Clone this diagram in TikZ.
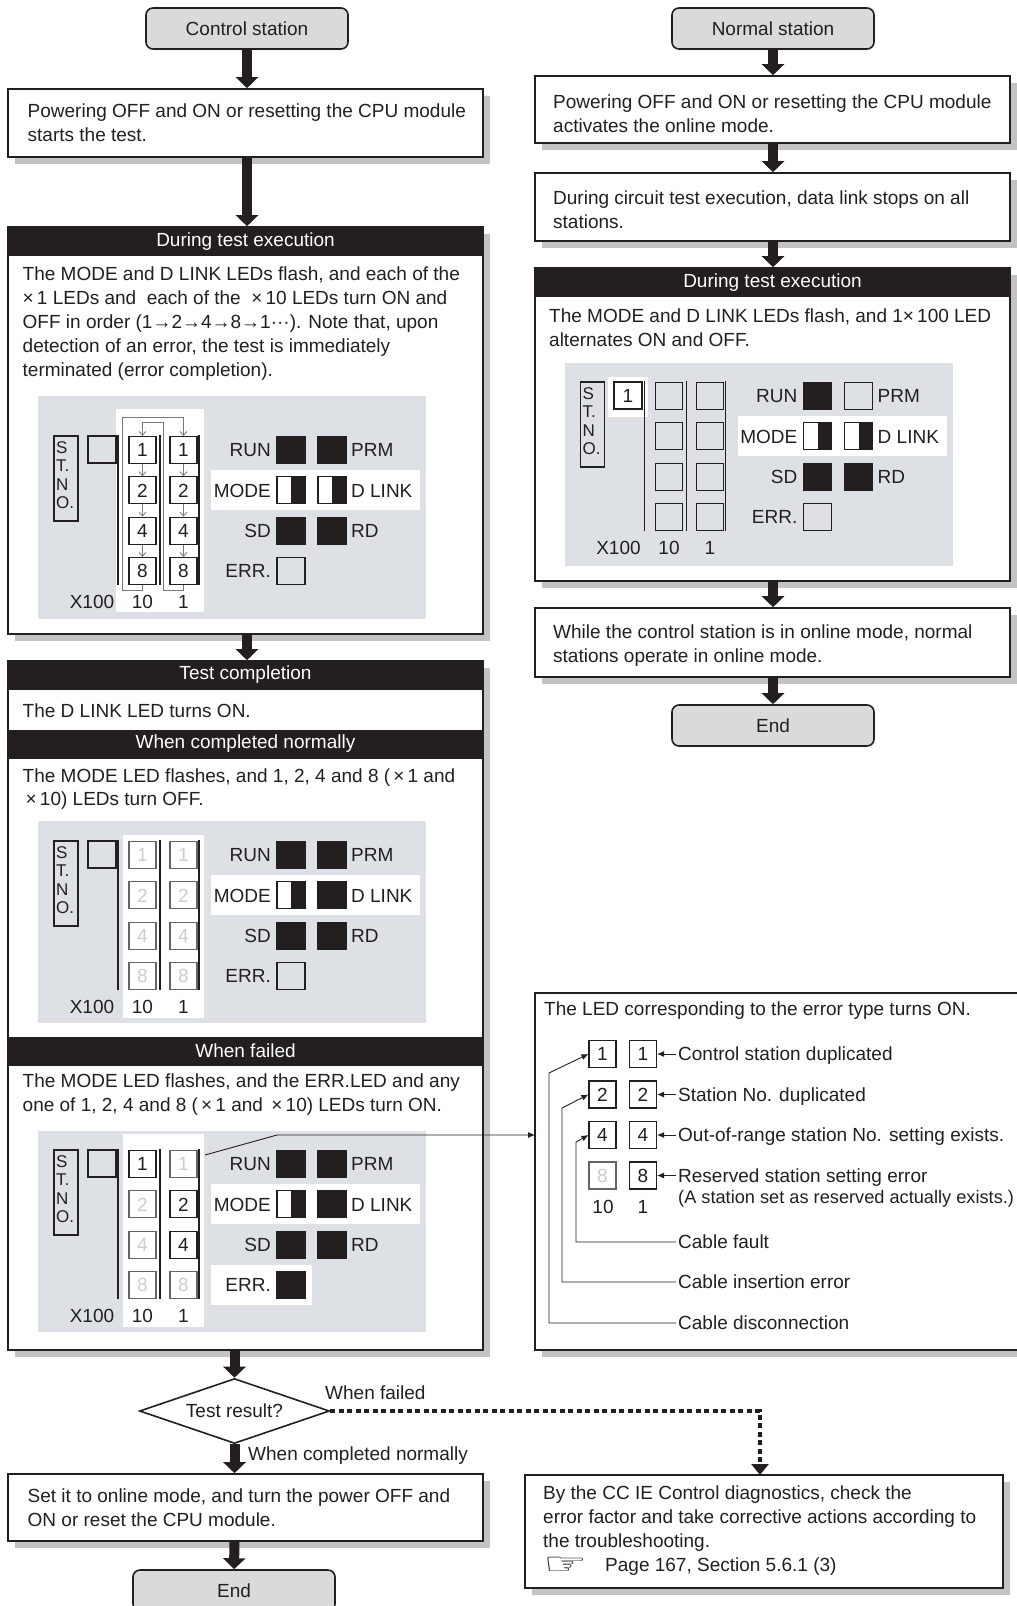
\documentclass[tikz,border=0pt]{standalone}
\usepackage{fontspec}
\usepackage{graphicx}
\setmainfont{Liberation Sans}
\newfontfamily\dejavu{DejaVu Sans}
\usetikzlibrary{arrows.meta,shapes.geometric,shadows}
\definecolor{panelgray}{RGB}{221,224,228}
\definecolor{rbgray}{RGB}{218,218,218}
\definecolor{shgray}{RGB}{195,195,195}
\definecolor{ink}{RGB}{35,31,32}
\definecolor{dimtext}{RGB}{205,205,205}
\definecolor{dimline}{RGB}{100,100,100}
\definecolor{arrgray}{RGB}{120,120,120}
\newcommand{\LPbase}[1]{%
  \node[stno] (#1-stno) at (66,28.5) {};
  \node[stl] (#1-s1) at (56,-3) {S};
  \node[stl] (#1-s2) at (56,15.5) {T.};
  \node[stl] (#1-s3) at (56,34) {N};
  \node[stl] (#1-s4) at (56,52.5) {O.};
  \draw[sepl] (118,-15) -- (118,135) (160,-15) -- (160,135) (199,-15) -- (199,135);
  \node[lbl] (#1-x100) at (92,152) {X100};
  \node[lbl] (#1-c10) at (142.5,152) {10};
  \node[lbl] (#1-c1) at (183.5,152) {1};
  \node[lbl,anchor=east] (#1-lrun) at (271,0) {RUN};
  \node[lbl,anchor=east] (#1-lmode) at (271,40.3) {MODE};
  \node[lbl,anchor=east] (#1-lsd) at (271,80.7) {SD};
  \node[lbl,anchor=east] (#1-lerr) at (271,121) {ERR.};
  \node[lbl,anchor=west] (#1-lprm) at (351,0) {PRM};
  \node[lbl,anchor=west] (#1-ldl) at (351,40.3) {D LINK};
  \node[lbl,anchor=west] (#1-lrd) at (351,80.7) {RD};
}
\newcommand{\LPleds}[8]{%
  \node[#2] (#1-run) at (291,0) {};
  \node[#3] (#1-prm) at (332,0) {};
  \node[#4] (#1-mode) at (291,40.3) {};
  \node[#5] (#1-dl) at (332,40.3) {};
  \node[#6] (#1-sd) at (291,80.7) {};
  \node[#7] (#1-rd) at (332,80.7) {};
  \node[#8] (#1-err) at (291,121) {};
}
\newcommand{\LPdigs}[9]{%
  \node[#2] (#1-t1) at (142.5,0) {1};
  \node[#3] (#1-t2) at (142.5,40.3) {2};
  \node[#4] (#1-t4) at (142.5,80.7) {4};
  \node[#5] (#1-t8) at (142.5,121) {8};
  \node[#6] (#1-o1) at (183.5,0) {1};
  \node[#7] (#1-o2) at (183.5,40.3) {2};
  \node[#8] (#1-o4) at (183.5,80.7) {4};
  \node[#9] (#1-o8) at (183.5,121) {8};
}
\newcommand{\handicon}{\raisebox{-3pt}[0pt][0pt]{\scalebox{1.3}[0.8]{\dejavu\fontsize{38}{38}\selectfont ☞}}}
\begin{document}
\begin{tikzpicture}[x=1pt,y=-1pt,
 every node/.style={font=\fontsize{19}{23.8}\selectfont,inner sep=0pt,text=ink},
 roundbox/.style={draw=ink,line width=1.6pt,rounded corners=7pt,fill=rbgray,minimum width=202pt,minimum height=41pt},
 boxframe/.style={draw=ink,line width=1.6pt,fill=white,drop shadow={shadow xshift=7pt,shadow yshift=-7pt,fill=shgray,opacity=1}},
 hdr/.style={fill=ink,text=white,minimum width=475pt,minimum height=29pt},
 txt/.style={align=left,anchor=west},
 lbl/.style={text height=13.7pt,text depth=0pt},
 bigarrow/.style={draw=ink,line width=10pt,-{Triangle[width=22pt,length=11pt]}},
 dotarrow/.style={draw=ink,line width=4pt,dash pattern=on 5pt off 3.5pt,-{Triangle[width=17pt,length=11pt]}},
 sarrow/.style={draw=ink,line width=0.9pt,-{Latex[length=7pt,width=6pt]}},
 garrow/.style={draw=arrgray,line width=0.8pt,-{Straight Barb[length=4pt,width=7pt]}},
 sepl/.style={draw=ink,line width=1.1pt},
 stno/.style={draw=ink,line width=1.1pt,minimum width=24pt,minimum height=85pt},
 stl/.style={font=\fontsize{17}{17}\selectfont,anchor=west,text height=12.2pt,text depth=0pt},
 ledbase/.style={minimum width=28pt,minimum height=27pt,draw=ink,line width=1.1pt},
 ledon/.style={ledbase,fill=ink},
 ledoff/.style={ledbase},
 ledhalf/.style={ledbase,fill=white,path picture={\fill[ink] (path picture bounding box.north) rectangle (path picture bounding box.south east);}},
 digbase/.style={minimum width=27pt,minimum height=27pt,line width=1.1pt,text height=13.7pt,text depth=0pt},
 digon/.style={digbase,draw=ink,fill=white,text=ink},
 digdim/.style={digbase,draw=dimline,fill=white,text=dimtext},
 digempty/.style={digbase,draw=ink},
]
\useasboundingbox (0,0) rectangle (1017,1606);

% ---------------- left column frames
\node[roundbox] (cs) at (247,28.5) {Control station};
\node[boxframe,minimum width=475pt,minimum height=68pt] (box1) at (245.5,123) {};
\node[boxframe,minimum width=475pt,minimum height=407pt] (exec) at (245.5,430.5) {};
\node[boxframe,minimum width=475pt,minimum height=689pt] (tc) at (245.5,1005.5) {};
\node[draw=ink,line width=1.6pt,fill=white,diamond,aspect=2.9,minimum width=190pt,minimum height=65pt] (dia) at (234.5,1411) {Test result?};
\node[boxframe,minimum width=475pt,minimum height=67pt] (bl) at (245.5,1507.5) {};
\node[roundbox] (end1) at (234,1590.5) {End};

% ---------------- right column frames
\node[roundbox] (ns) at (773,28.5) {Normal station};
\node[boxframe,minimum width=475pt,minimum height=67pt] (r3) at (772.5,109.5) {};
\node[boxframe,minimum width=475pt,minimum height=68pt] (r5) at (772.5,207) {};
\node[boxframe,minimum width=475pt,minimum height=313pt] (r7) at (772.5,424.5) {};
\node[boxframe,minimum width=475pt,minimum height=69pt] (r9) at (772.5,642.5) {};
\node[roundbox] (end2) at (773,725.5) {End};
\node[boxframe,minimum width=487pt,minimum height=357pt] (eb) at (778.5,1171.5) {};
\node[boxframe,minimum width=478pt,minimum height=113pt] (br) at (764,1531.5) {};

% ---------------- headers
\node[hdr] (exech) at (245.5,241.5) {During test execution};
\node[hdr] (tch1) at (245.5,675) {Test completion};
\node[hdr] (tch2) at (245.5,744) {When completed normally};
\node[hdr] (tch3) at (245.5,1051) {When failed};
\node[hdr] (r7h) at (772.5,282.5) {During test execution};

% ---------------- texts
\node[txt] (box1t) at (27.5,122.8) {Powering OFF and ON or resetting the CPU module\\starts the test.};
\node[txt] (exect) at (22.5,323.5) {The MODE and D LINK LEDs flash, and each of the\\{×}\,1 LEDs and \ each of the \ {×}\,10 LEDs turn ON and\\OFF in order (1→2→4→8→1···). Note that, upon\\detection of an error, the test is immediately\\terminated (error completion).};
\node[txt] (tct1) at (22.5,711) {The D LINK LED turns ON.};
\node[txt] (tct2) at (22.5,789) {The MODE LED flashes, and 1, 2, 4 and 8 (\,{×}\,1 and\\\hspace*{3pt}{×}\,10) LEDs turn OFF.};
\node[txt] (tct3) at (22.5,1094.8) {The MODE LED flashes, and the ERR.LED and any\\one of 1, 2, 4 and 8 (\,{×}\,1 and \,{×}\,10) LEDs turn ON.};
\node[txt] (blt) at (27.5,1508) {Set it to online mode, and turn the power OFF and\\ON or reset the CPU module.};
\node[txt] (r3t) at (553,114) {Powering OFF and ON or resetting the CPU module\\activates the online mode.};
\node[txt] (r5t) at (553,209.5) {During circuit test execution, data link stops on all\\stations.};
\node[txt] (r7t) at (549,328) {The MODE and D LINK LEDs flash, and 1{×}\,100 LED\\alternates ON and OFF.};
\node[txt] (r9t) at (553,645.5) {While the control station is in online mode, normal\\stations operate in online mode.};
\node[txt] (ebt) at (544,1011) {The LED corresponding to the error type turns ON.};
\node[txt] (brt) at (543,1530.5) {By the CC IE Control diagnostics, check the\\error factor and take corrective actions according to\\the troubleshooting.\\\makebox[62pt][l]{\handicon}Page 167, Section 5.6.1 (3)};
\node[lbl,anchor=west] (wf) at (325,1393) {When failed};
\node[lbl,anchor=west] (wcn) at (248,1454) {When completed normally};

% ---------------- panel 1 (during test, control station)
\begin{scope}[shift={(0,450)}]
  \fill[panelgray] (38,-54) rectangle (426,169);
  \fill[white] (116,-41) rectangle (204,162);
  \fill[white] (211,20) rectangle (420,60);
  \LPbase{pa}
  \node[ledoff] (pa-v) at (102,-0.5) {};
  \LPdigs{pa}{digon}{digon}{digon}{digon}{digon}{digon}{digon}{digon}
  \foreach \a/\b in {1/2,2/4,4/8} {
    \draw[garrow] (pa-t\a) -- (pa-t\b);
    \draw[garrow] (pa-o\a) -- (pa-o\b);
  }
  \draw[garrow] (pa-t8.south) -- ++(0,5.5) -| (122.7,-33) -| (pa-o1.north);
  \draw[garrow] (pa-o8.south) -- ++(0,5.5) -| (163.3,-28) -| (pa-t1.north);
  \LPleds{pa}{ledon}{ledon}{ledhalf}{ledhalf}{ledon}{ledon}{ledoff}
\end{scope}

% ---------------- panel 2 (completed normally)
\begin{scope}[shift={(0,855)}]
  \fill[panelgray] (38,-34) rectangle (426,168);
  \fill[white] (123,-20) rectangle (204,163);
  \fill[white] (211,20) rectangle (420,60);
  \LPbase{pb}
  \node[ledoff] (pb-v) at (102,-0.5) {};
  \LPdigs{pb}{digdim}{digdim}{digdim}{digdim}{digdim}{digdim}{digdim}{digdim}
  \LPleds{pb}{ledon}{ledon}{ledhalf}{ledon}{ledon}{ledon}{ledoff}
\end{scope}

% ---------------- panel 3 (failed)
\begin{scope}[shift={(0,1164)}]
  \fill[panelgray] (38,-33) rectangle (426,168);
  \fill[white] (123,-30) rectangle (204,163);
  \fill[white] (211,20) rectangle (420,60);
  \fill[white] (211,101) rectangle (312,141);
  \LPbase{pc}
  \node[ledoff] (pc-v) at (102,-0.5) {};
  \LPdigs{pc}{digon}{digdim}{digdim}{digdim}{digdim}{digon}{digon}{digdim}
  \LPleds{pc}{ledon}{ledon}{ledhalf}{ledon}{ledon}{ledon}{ledon}
\end{scope}

% ---------------- right panel (normal station)
\begin{scope}[shift={(526.5,396)}]
  \fill[panelgray] (38,-33) rectangle (426,170);
  \fill[white] (81.5,-19) rectangle (121.5,21);
  \fill[white] (211,20) rectangle (420,60);
  \LPbase{pr}
  \node[digon,minimum width=28pt] (pr-v) at (101.5,-0.5) {1};
  \foreach \v/\y in {1/0,2/40.3,4/80.7,8/121} {
    \node[digempty] (pr-t\v) at (142.5,\y) {};
    \node[digempty] (pr-o\v) at (183.5,\y) {};
  }
  \LPleds{pr}{ledon}{ledoff}{ledhalf}{ledhalf}{ledon}{ledon}{ledoff}
\end{scope}

% ---------------- error-type box contents
\node[digon] (e-t1) at (602.5,1054) {1};
\node[digon] (e-t2) at (602.5,1094.5) {2};
\node[digon] (e-t4) at (602.5,1135) {4};
\node[digdim] (e-t8) at (602.5,1175.5) {8};
\node[digon] (e-o1) at (643,1054) {1};
\node[digon] (e-o2) at (643,1094.5) {2};
\node[digon] (e-o4) at (643,1135) {4};
\node[digon] (e-o8) at (643,1175.5) {8};
\node[lbl] (e-c10) at (603,1207) {10};
\node[lbl] (e-c1) at (643,1207) {1};
\node[lbl,anchor=west,inner xsep=2pt] (e-m1) at (676,1054) {Control station duplicated};
\node[lbl,anchor=west,inner xsep=2pt] (e-m2) at (676,1094.5) {Station No. duplicated};
\node[lbl,anchor=west,inner xsep=2pt] (e-m4) at (676,1135) {Out-of-range station No. setting exists.};
\node[lbl,anchor=west,inner xsep=2pt] (e-m8) at (676,1175.5) {Reserved station setting error};
\node[lbl,anchor=west,inner xsep=2pt,font=\fontsize{18.2}{22}\selectfont] (e-m8b) at (676,1197) {(A station set as reserved actually exists.)};
\node[lbl,anchor=west,inner xsep=2pt] (e-cf) at (676,1242) {Cable fault};
\node[lbl,anchor=west,inner xsep=2pt] (e-ci) at (676,1282) {Cable insertion error};
\node[lbl,anchor=west,inner xsep=2pt] (e-cd) at (676,1323) {Cable disconnection};
\draw[sarrow] (e-m1.west) -- (e-o1.east);
\draw[sarrow] (e-m2.west) -- (e-o2.east);
\draw[sarrow] (e-m4.west) -- (e-o4.east);
\draw[sarrow] (e-m8.west) -- (e-o8.east);
\draw[sarrow] (e-cf.west) -| (576,1142) -- (e-t4.west);
\draw[sarrow] (e-ci.west) -| (562,1108) -- (e-t2.west);
\draw[sarrow] (e-cd.west) -| (549,1073) -- (e-t1.west);

% ---------------- connectors
\coordinate (p3out) at (205,1155);
\coordinate (ebin) at (535,1135);
\coordinate (brin) at (760,1475);
\draw[sarrow] (p3out) -- (277,1135) -- (ebin);

\draw[bigarrow] (cs.south) -- (cs.south |- box1.north);
\draw[bigarrow] (cs.south |- box1.south) -- (cs.south |- exec.north);
\draw[bigarrow] (cs.south |- exec.south) -- (cs.south |- tc.north);
\draw[bigarrow] (dia.north |- tc.south) -- (dia.north);
\draw[bigarrow] (dia.south) -- (dia.south |- bl.north);
\draw[bigarrow] (dia.south |- bl.south) -- (end1.north);
\draw[dotarrow] (dia.east) -| (brin);

\draw[bigarrow] (ns.south) -- (ns.south |- r3.north);
\draw[bigarrow] (ns.south |- r3.south) -- (ns.south |- r5.north);
\draw[bigarrow] (ns.south |- r5.south) -- (ns.south |- r7.north);
\draw[bigarrow] (ns.south |- r7.south) -- (ns.south |- r9.north);
\draw[bigarrow] (ns.south |- r9.south) -- (end2.north);
\end{tikzpicture}
\end{document}
